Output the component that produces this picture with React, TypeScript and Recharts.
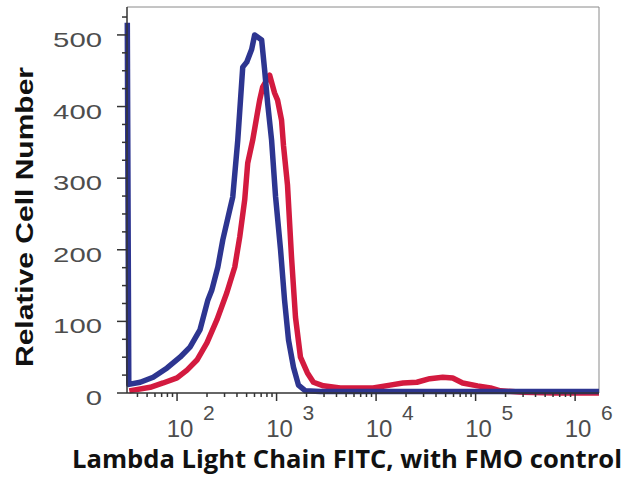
import React from "react";
import { LineChart, Line, XAxis, YAxis, ReferenceLine } from "recharts";

// fluorescence channel, as log10 exponent of intensity
const blueExp = [
  1.5, 1.515, 1.63, 1.76, 1.9, 2.03, 2.13, 2.23, 2.31, 2.35, 2.41, 2.46, 2.53, 2.56, 2.61,
  2.66, 2.7, 2.75, 2.78, 2.85, 2.88, 2.91, 2.95, 2.99, 3.04, 3.08, 3.12, 3.17, 3.22, 3.29,
  3.44, 3.8, 4.3, 4.8, 5.3, 5.8, 6.24,
];
const blueCount = [
  517, 12, 15, 22, 35, 50, 64, 88, 130, 144, 176, 214, 256, 274, 353, 455, 462, 480, 500,
  493, 451, 405, 353, 274, 200, 130, 74, 36, 11, 3, 2, 2, 2, 2, 2, 2, 2,
];

const redExp = [
  1.52, 1.73, 1.86, 2.0, 2.1, 2.2, 2.3, 2.4, 2.5, 2.58, 2.63, 2.68, 2.71, 2.76, 2.8, 2.83,
  2.86, 2.93, 2.98, 3.01, 3.05, 3.07, 3.11, 3.15, 3.19, 3.24, 3.31, 3.37, 3.47, 3.64, 3.97,
  4.14, 4.27, 4.41, 4.54, 4.67, 4.77, 4.87, 5.02, 5.15, 5.25, 5.48, 5.8, 6.24,
];
const redCount = [
  3, 8, 14, 21, 32, 46, 70, 102, 140, 176, 218, 270, 321, 353, 385, 409, 427, 444, 419, 409,
  381, 345, 290, 190, 106, 50, 28, 15, 10, 7, 7, 11, 14, 15, 20, 22, 21, 14, 10, 7, 3, 1, 0, 0,
];

const xMajor = [2, 3, 4, 5, 6];
const xMultipliers = [2, 3, 4, 5, 6, 7, 8, 9];
const yMajor = [0, 100, 200, 300, 400, 500];
const yMinorStep = 25;

const X_MIN = 1.497;
const X_MAX = 6.24;
const Y_MAX = 539;

const blueData = blueExp.map((x, i) => ({ x, y: blueCount[i] }));
const redData = redExp.map((x, i) => ({ x, y: redCount[i] }));

const xTicks: number[] = [...xMajor];
for (let d = 1; d <= 5; d++) {
  xMultipliers.forEach((m) => {
    const v = d + Math.log10(m);
    if (v > X_MIN && v < X_MAX) xTicks.push(v);
  });
}
xTicks.sort((a, b) => a - b);

const yTicks: number[] = [];
for (let v = 0; v < Y_MAX; v += yMinorStep) yTicks.push(v);

const tickFont = "'Liberation Sans', Arial, sans-serif";

function XTick(props: any) {
  const { x, y, payload } = props;
  const v = payload.value;
  const major = xMajor.some((m) => Math.abs(m - v) < 1e-6);
  return (
    <g>
      <line x1={x} x2={x} y1={y} y2={y + (major ? 8 : 4)} stroke="#333" strokeWidth={1.5} />
      {major && (
        <>
          <text x={x + 3} y={y + 44} textAnchor="middle" fontFamily={tickFont} fontSize={24} fill="#4d4d4d">
            10
          </text>
          <text x={x + 26} y={y + 27} textAnchor="start" fontFamily={tickFont} fontSize={21} fill="#4d4d4d">
            {v}
          </text>
        </>
      )}
    </g>
  );
}

function YTick(props: any) {
  const { x, y, payload } = props;
  const v = payload.value;
  const major = yMajor.includes(v);
  const label = String(v);
  return (
    <g>
      <line x1={x - (major ? 10 : 5)} x2={x} y1={y} y2={y} stroke="#333" strokeWidth={1.5} />
      {major && (
        <text
          x={x - 25}
          y={y + 12}
          textAnchor="end"
          fontFamily={tickFont}
          fontSize={21}
          fill="#4d4d4d"
          textLength={label.length * 16.3}
          lengthAdjust="spacingAndGlyphs"
        >
          {label}
        </text>
      )}
    </g>
  );
}

const xTitle = () => (
  <text
    x={72}
    y={468}
    textAnchor="start"
    fontFamily="'Open Sans', 'Noto Sans', sans-serif"
    fontWeight={700}
    fontSize={25}
    fill="#111"
    textLength={550}
    lengthAdjust="spacingAndGlyphs"
  >
    Lambda Light Chain FITC, with FMO control
  </text>
);

const yTitle = () => (
  <text
    x={33}
    y={217}
    transform="rotate(-90, 33, 217)"
    textAnchor="middle"
    fontFamily={tickFont}
    fontWeight={700}
    fontSize={24}
    fill="#111"
    textLength={300}
    lengthAdjust="spacingAndGlyphs"
  >
    Relative Cell Number
  </text>
);

export default function App() {
  return (
    <div style={{ position: "absolute", left: 0, top: 0, width: 626, height: 481, background: "#fff" }}>
      <LineChart width={626} height={481} margin={{ top: 7, right: 27, bottom: 0, left: 0 }}>
        <XAxis
          type="number"
          dataKey="x"
          domain={[X_MIN, X_MAX]}
          ticks={xTicks}
          interval={0}
          tick={XTick}
          tickLine={false}
          tickSize={0}
          tickMargin={0}
          height={88}
          axisLine={{ stroke: "#333", strokeWidth: 1.5 }}
          label={xTitle}
        />
        <YAxis
          type="number"
          domain={[0, Y_MAX]}
          ticks={yTicks}
          interval={0}
          tick={YTick}
          tickLine={false}
          tickSize={0}
          tickMargin={0}
          width={127}
          axisLine={{ stroke: "#333", strokeWidth: 1.5 }}
          label={yTitle}
        />
        <ReferenceLine y={Y_MAX} stroke="#8a8a8a" strokeWidth={1} />
        <ReferenceLine x={X_MAX} stroke="#8a8a8a" strokeWidth={1} />
        <Line
          data={redData}
          dataKey="y"
          type="linear"
          stroke="#d31a3f"
          strokeWidth={5.5}
          strokeLinejoin="round"
          dot={false}
          isAnimationActive={false}
        />
        <Line
          data={blueData}
          dataKey="y"
          type="linear"
          stroke="#2d3590"
          strokeWidth={5.5}
          strokeLinejoin="round"
          dot={false}
          isAnimationActive={false}
        />
      </LineChart>
    </div>
  );
}
